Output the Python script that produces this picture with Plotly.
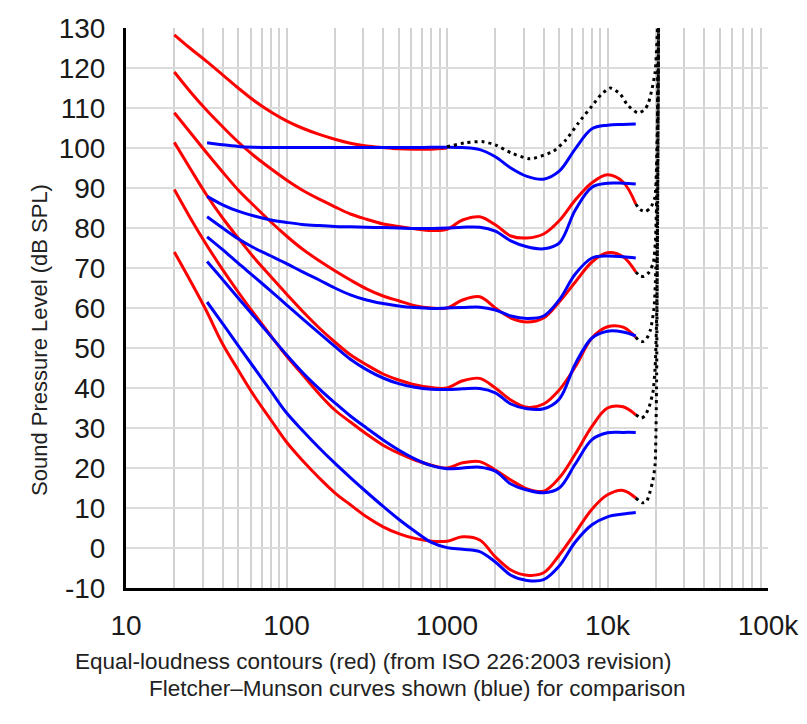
import plotly.graph_objects as go

# ISO 226:2003 contours (red)
freq_iso = [20, 25, 31.5, 40, 50, 63, 80, 100, 125, 160, 200, 250, 315, 400, 500,
            630, 800, 1000, 1250, 1600, 2000, 2500, 3150, 4000, 5000, 6300, 8000,
            10000, 12500, 15000]
red_thr = [74, 67, 59.5, 51, 44.5, 38, 32, 26.5, 22, 17.5, 13.8, 10.8, 7.8, 5.3, 3.6,
           2.4, 1.7, 1.7, 2.8, 2.0, -2.2, -5.5, -6.8, -6.2, -1.8, 3.8, 9.7, 13.3, 14.4, 12.5]
red_20 = [89.6, 82.7, 76, 69.6, 64, 58.5, 53, 48, 43.5, 38.5, 34.5, 31.5, 28.5, 25.7, 23.7,
          22, 20.7, 20, 21.3, 21.6, 19.5, 17, 14.8, 14.2, 17.5, 23.5, 30.4, 35, 35.3, 33.3]
red_40 = [101.4, 95, 88.5, 82.5, 77.5, 72.5, 67.8, 63.5, 59.3, 55, 51.5, 48.3, 45.8, 43.5, 42,
          40.8, 40.1, 40, 41.8, 42.4, 40, 37, 35.2, 36, 39.5, 45.3, 52.5, 55.3, 55.2, 52.7]
red_60 = [108.8, 104, 99, 94, 89.5, 85.5, 81.5, 78, 74.8, 71.8, 69.3, 67, 64.8, 63, 61.8,
          60.6, 60, 60, 62, 62.8, 60, 57.5, 56.5, 57.5, 61.5, 66.5, 71.5, 73.8, 72.8, 69]
red_80 = [119, 114.2, 109.6, 105.3, 101.5, 98, 94.8, 92, 89.5, 87.2, 85.3, 83.5, 82.2, 81, 80.4,
          79.8, 79.4, 79.7, 82, 82.8, 80.8, 78, 77.5, 78.5, 81.8, 87, 91.3, 93.3, 91.5, 86]
red_100 = [128.3, 125, 121.8, 118.3, 115, 111.8, 109, 106.8, 105, 103.4, 102.2, 101.2, 100.5,
           100.1, 99.8, 99.7, 99.7, 100]

# Fletcher-Munson curves (blue)
freq_fm = [32, 40, 50, 63, 80, 100, 125, 160, 200, 250, 315, 400, 500, 630, 800, 1000,
           1250, 1600, 2000, 2500, 3150, 4000, 5000, 6300, 8000, 10000, 12500, 15000]
blue_thr = [61.5, 56.1, 50.6, 45, 39.2, 33.8, 29.5, 25, 21.2, 17.6, 14, 10.4, 7.2, 4.2, 1.4,
            0.1, -0.3, -0.9, -3.5, -6.8, -8.1, -7.9, -4.5, 1.5, 5.8, 7.8, 8.5, 8.9]
blue_20 = [71.6, 67.1, 62.5, 57.8, 52.9, 48.3, 44, 39.8, 36.3, 33, 30, 27, 24.5, 22.3, 20.6,
           19.8, 20, 20.2, 19.2, 16, 14.5, 13.8, 15, 21, 27.1, 28.8, 28.9, 28.9]
blue_40 = [77.8, 74.6, 71.2, 67.8, 64.2, 60.8, 57.4, 53.7, 50.4, 47.2, 44.6, 42.5, 41.1, 40.2,
           39.7, 39.6, 39.8, 39.9, 38.8, 36, 34.8, 34.8, 37.2, 46, 52.5, 54.2, 54, 53]
blue_60 = [82.8, 80, 77.3, 75, 73, 71.1, 69.1, 67, 65, 63.3, 62, 61.1, 60.5, 60.1, 59.9, 60,
           60.1, 60.2, 59.5, 58, 57.4, 58, 62, 68.5, 72.5, 73, 72.8, 72.5]
blue_80 = [87.9, 85.8, 84.2, 83, 82, 81.4, 80.9, 80.6, 80.4, 80.3, 80.2, 80.1, 80, 79.9, 79.9,
           80, 80.2, 80.2, 79.2, 76.8, 75.3, 74.8, 76.2, 84.5, 90.2, 91.2, 91.2, 91]
blue_100 = [101.3, 100.8, 100.4, 100.2, 100.1, 100.1, 100.1, 100.1, 100.1, 100.1, 100.1, 100.1,
            100.1, 100.1, 100.2, 100.2, 100.1, 99.6, 97.8, 95, 92.9, 92.2, 94.2, 99.8, 104.8,
            105.7, 105.9, 106]

# estimated extensions (black dotted)
est_100_f = [1000, 1300, 1650, 2000, 2500, 3300, 4600, 5500, 6600, 8000, 9100, 10400, 12000,
             13300, 15400, 17000, 18000, 19000, 19800, 20500, 20700]
est_100_db = [100.3, 101.3, 101.6, 100.8, 98.8, 97.3, 99.2, 102, 106.3, 110.5, 113.3, 115,
              113.5, 110.8, 108.8, 109.5, 111.3, 115, 119, 130, 134]
est_80_f = [15000, 16000, 17200, 18500, 19700, 20200, 20500, 20700]
est_80_db = [86, 84.6, 84.1, 85, 87.5, 95, 110, 131]
est_60_f = [15000, 16000, 16900, 18200, 19300, 19900, 20300, 20600, 20800]
est_60_db = [69, 68, 67.9, 69, 71.3, 77, 90, 110, 131]
est_40_f = [15000, 15800, 16600, 17500, 18500, 19500, 20000, 20400, 20700]
est_40_db = [52.7, 51.8, 51.6, 52.3, 54.5, 60, 70, 95, 131]
est_20_f = [15000, 16300, 17200, 18200, 19200, 19800, 20300, 20600, 20800]
est_20_db = [33.3, 32.5, 33.2, 35.4, 39, 45, 60, 95, 131]
est_thr_f = [15000, 16500, 17500, 18300, 19200, 19800, 20200, 20500, 20800]
est_thr_db = [12.5, 11.3, 11.6, 13.7, 17, 21, 40, 80, 131]

labels = ["(estimated)", "100 phon", "80", "60", "40", "20", "(threshold)"]
label_f = [7400, 2040, 1420, 1420, 1420, 1400, 1400]
label_db = [122.5, 105.4, 85.4, 64.6, 44.6, 23.9, 6.6]

x_tickvals = [10, 100, 1000, 10000, 100000]
x_ticktext = ["10", "100", "1000", "10k", "100k"]
y_tickvals = [-10, 0, 10, 20, 30, 40, 50, 60, 70, 80, 90, 100, 110, 120, 130]
y_ticktext = [str(v) for v in y_tickvals]

font = "Liberation Sans, Arial, sans-serif"
fig = go.Figure()

for ys in [red_thr, red_20, red_40, red_60, red_80, red_100]:
    fig.add_trace(go.Scatter(x=freq_iso[:len(ys)], y=ys, mode="lines",
                             line=dict(color="#ff0000", width=3, shape="spline")))
for ys in [blue_thr, blue_20, blue_40, blue_60, blue_80, blue_100]:
    fig.add_trace(go.Scatter(x=freq_fm, y=ys, mode="lines",
                             line=dict(color="#0000ff", width=3, shape="spline")))
for fx, ys in [(est_100_f, est_100_db), (est_80_f, est_80_db), (est_60_f, est_60_db),
               (est_40_f, est_40_db), (est_20_f, est_20_db), (est_thr_f, est_thr_db)]:
    fig.add_trace(go.Scatter(x=fx, y=ys, mode="lines",
                             line=dict(color="black", width=3, dash="3px,4px",
                                       shape="spline", smoothing=0.6)))

for t, fx, yy in zip(labels, label_f, label_db):
    fig.add_annotation(x=fx, y=yy, xref="x", yref="y", text=t, showarrow=False,
                       font=dict(size=22, color="#333333", family=font))

minor_vals = [m * 10 ** k for k in range(1, 5) for m in range(2, 10)]

fig.update_xaxes(type="log", range=[1, 5], tickvals=x_tickvals, ticktext=x_ticktext,
                 showgrid=True, gridcolor="#d2d2d2", gridwidth=2,
                 minor=dict(tickvals=minor_vals, showgrid=True, gridcolor="#d2d2d2", gridwidth=2),
                 showline=True, linecolor="black", linewidth=3, automargin=False,
                 ticks="", ticklabelstandoff=10, ticklabeloverflow="allow",
                 tickfont=dict(size=28, color="#1a1a1a", family=font))
fig.update_yaxes(range=[-10, 130], tickvals=y_tickvals, ticktext=y_ticktext,
                 showgrid=True, gridcolor="#dcdcdc", gridwidth=2,
                 zeroline=False, showline=True, linecolor="black", linewidth=3, automargin=False,
                 ticks="", ticklabelstandoff=12, ticklabeloverflow="allow",
                 tickfont=dict(size=28, color="#1a1a1a", family=font))

fig.add_annotation(xref="paper", yref="paper", x=-0.134, y=0.443,
                   xanchor="center", yanchor="middle",
                   text="Sound Pressure Level (dB SPL)", textangle=-90, showarrow=False,
                   font=dict(size=22, color="#222222", family=font))
fig.add_annotation(xref="paper", yref="paper", x=-0.0826, y=-0.132,
                   xanchor="left", yanchor="middle",
                   text="Equal-loudness contours (red) (from ISO 226:2003 revision)",
                   showarrow=False, font=dict(size=22.5, color="#222222", family=font))
fig.add_annotation(xref="paper", yref="paper", x=0.0327, y=-0.180,
                   xanchor="left", yanchor="middle",
                   text="Fletcher\u2013Munson curves shown (blue) for comparison",
                   showarrow=False, font=dict(size=22.5, color="#222222", family=font))

# page body adds an 8px margin, so the figure is shifted by that much
fig.update_layout(width=799, height=716, showlegend=False,
                  plot_bgcolor="white", paper_bgcolor="white",
                  margin=dict(l=118, r=39, t=20, b=136))

fig.write_html("out.html")
